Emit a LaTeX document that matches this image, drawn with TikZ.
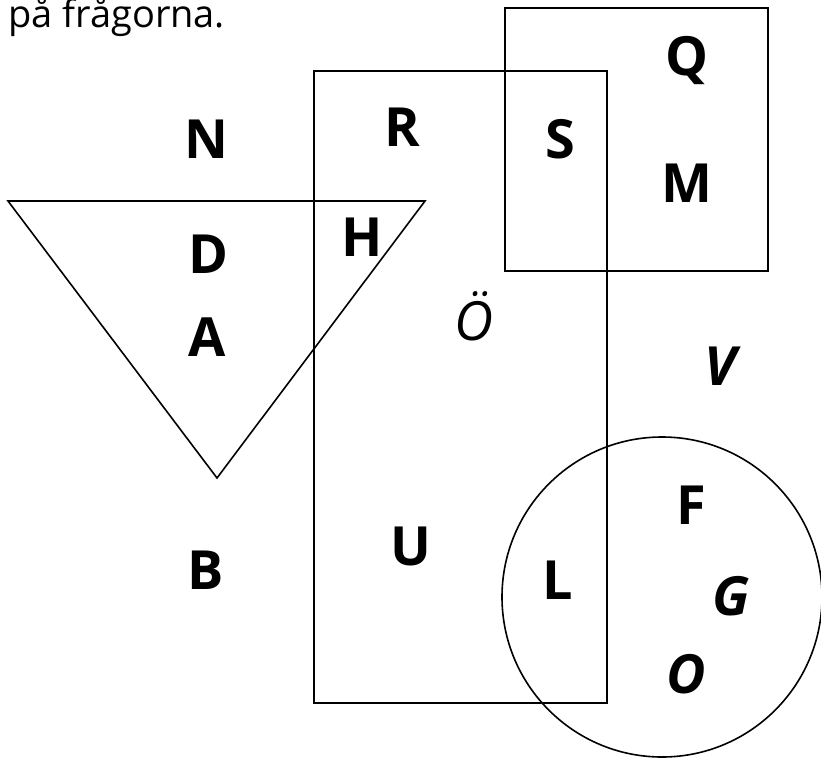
\documentclass[tikz,border=0pt]{standalone}
\usepackage{fontspec}
\setmainfont{Open Sans}
\usepackage{xcolor}
\usepackage{tikz}
\usetikzlibrary{positioning}

\tikzset{
    letter/.style={font=\fontsize{54}{54}\selectfont\bfseries, inner sep=0pt},
    slanted/.style={letter, font=\fontsize{54}{54}\selectfont\bfseries\itshape},
    setline/.style={line width=1.6pt, black}
}

\begin{document}
\begin{tikzpicture}[x=1pt, y=-1pt]
        \useasboundingbox (0,0) rectangle (821,760);
        % Header text
        \node[anchor=base west, inner sep=0pt, font=\fontsize{38}{38}\selectfont] (head) at (8,28) {på frågorna.};
        % Square
        \draw[setline] (505,8) rectangle (768,271);
        % Tall rectangle
        \draw[setline] (314,71) rectangle (607,703);
        % Triangle
        \draw[setline] (8,201) -- (425,201) -- (217,478) -- cycle;
        % Circle
        \draw[setline] (662,597) circle (160);
        % Letters
        \node[letter] (N) at (206,139) {N};
        \node[letter] (R) at (402,127) {R};
        \node[letter] (S) at (560,139) {S};
        \node[letter] (Q) at (687,61) {Q};
        \node[letter] (M) at (687,183) {M};
        \node[letter] (D) at (208,254) {D};
        \node[letter] (H) at (362,237) {H};
        \node[letter] (A) at (207,337) {A};
        \node[slanted, font=\fontsize{54}{54}\selectfont\itshape] (Oe) at (474,316) {Ö};
        \node[slanted] (V) at (720,366) {V};
        \node[letter] (F) at (691,505) {F};
        \node[letter] (U) at (411,546) {U};
        \node[letter] (B) at (206,570) {B};
        \node[letter] (L) at (558,580) {L};
        \node[slanted] (G) at (731,596) {G};
        \node[slanted] (O) at (686,674) {O};
\end{tikzpicture}
\end{document}
